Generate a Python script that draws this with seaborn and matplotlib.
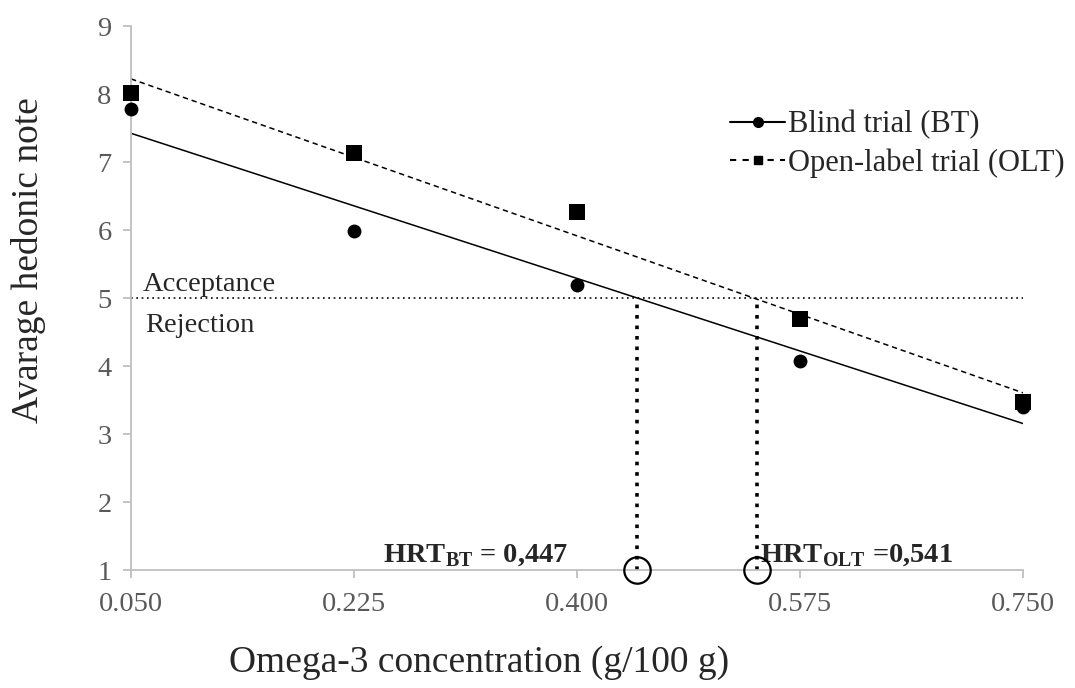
import numpy as np
import pandas as pd
import matplotlib.pyplot as plt
from matplotlib.lines import Line2D
import seaborn as sns

# valeurs
concentration = [0.050, 0.225, 0.400, 0.575, 0.750]
note_bt = [7.78, 5.99, 5.19, 4.08, 3.40]
note_olt = [8.02, 7.13, 6.26, 4.69, 3.47]
hrt_bt = 0.447
hrt_olt = 0.541
x_ticks = [0.050, 0.225, 0.400, 0.575, 0.750]
x_tick_labels = ["0.050", "0.225", "0.400", "0.575", "0.750"]
y_ticks = [1, 2, 3, 4, 5, 6, 7, 8, 9]

df = pd.DataFrame({
    "conc": concentration * 2,
    "note": note_bt + note_olt,
    "trial": ["BT"] * 5 + ["OLT"] * 5,
})

sns.set_theme(style="white")
plt.rcParams["font.family"] = ["Liberation Serif", "DejaVu Serif"]
plt.rcParams["mathtext.fontset"] = "custom"
plt.rcParams["mathtext.rm"] = "Liberation Serif"
plt.rcParams["mathtext.bf"] = "Liberation Serif:bold"

fig = plt.figure(figsize=(10.75, 6.88), dpi=100)
ax = fig.add_axes([0.1219, 0.1715, 0.8297, 0.7907])

styles = {"BT": ("o", "-", 100), "OLT": ("s", (0, (3.5, 2.5)), 120)}
for trial, (mk, ls, sz) in styles.items():
    sub = df[df["trial"] == trial]
    sns.regplot(data=sub, x="conc", y="note", ax=ax, ci=None, scatter=False,
                line_kws={"color": "black", "lw": 1.1, "ls": ls})
    sns.scatterplot(data=sub, x="conc", y="note", ax=ax, marker=mk, s=sz,
                    color="black", edgecolor="black", linewidth=0,
                    clip_on=False, zorder=5)

# seuil d'acceptation
ax.plot([0.05, 0.75], [5, 5], color="black", lw=1.2, ls=(0, (1, 2.2)))
ax.text(0.059, 5.2, "Acceptance", fontsize=20.5, ha="left", va="center")
ax.text(0.061, 4.59, "Rejection", fontsize=20.5, ha="left", va="center")

# seuils HRT
for h in [hrt_bt, hrt_olt]:
    ax.plot([h, h], [1, 5], color="black", lw=2.6, ls=(0, (1, 1.9)))
    ax.plot([h], [1], marker="o", ms=19, mfc="none", mec="black", mew=1.6,
            clip_on=False, zorder=6)

ax.text(0.393, 1.02, r"HRT$_{\mathbf{BT}}$ = 0,447", fontsize=20.5,
        fontweight="bold", ha="right", va="bottom")
ax.text(0.5435, 1.02, r"HRT$_{\mathbf{OLT}}$ =0,541", fontsize=20.5,
        fontweight="bold", ha="left", va="bottom")

ax.set_xlim(0.05, 0.75)
ax.set_ylim(1, 9)
ax.set_xticks(x_ticks)
ax.set_xticklabels(x_tick_labels)
ax.set_yticks(y_ticks)

for s in ["top", "right"]:
    ax.spines[s].set_visible(False)
for s in ["left", "bottom"]:
    ax.spines[s].set_color("#bfbfbf")
    ax.spines[s].set_linewidth(1.3)
ax.tick_params(axis="x", direction="out", length=6, width=1.3, color="#bfbfbf",
               labelsize=20.5, labelcolor="#595959", pad=10, bottom=True)
ax.tick_params(axis="y", direction="out", length=6, width=1.3, color="#bfbfbf",
               labelsize=20.5, labelcolor="#595959", pad=8, left=True)

ax.set_xlabel("Omega-3 concentration (g/100 g)", fontsize=27)
ax.set_ylabel("Avarage hedonic note", fontsize=27)
ax.xaxis.set_label_coords(0.39, -0.138)
ax.yaxis.set_label_coords(-0.095, 0.57)

handles = [
    Line2D([], [], color="black", lw=1.5, ls="-", marker="o", ms=7),
    Line2D([], [], color="black", lw=1.5, ls=(0, (3, 3)), marker="s", ms=6),
]
fig.legend(handles, ["Blind trial (BT)", "Open-label trial (OLT)"],
           loc="upper left", bbox_to_anchor=(0.668, 0.858), frameon=False,
           fontsize=22, handlelength=1.8, handletextpad=0.08, labelspacing=0.3,
           borderaxespad=0)

fig.savefig("out.png", dpi=100)
